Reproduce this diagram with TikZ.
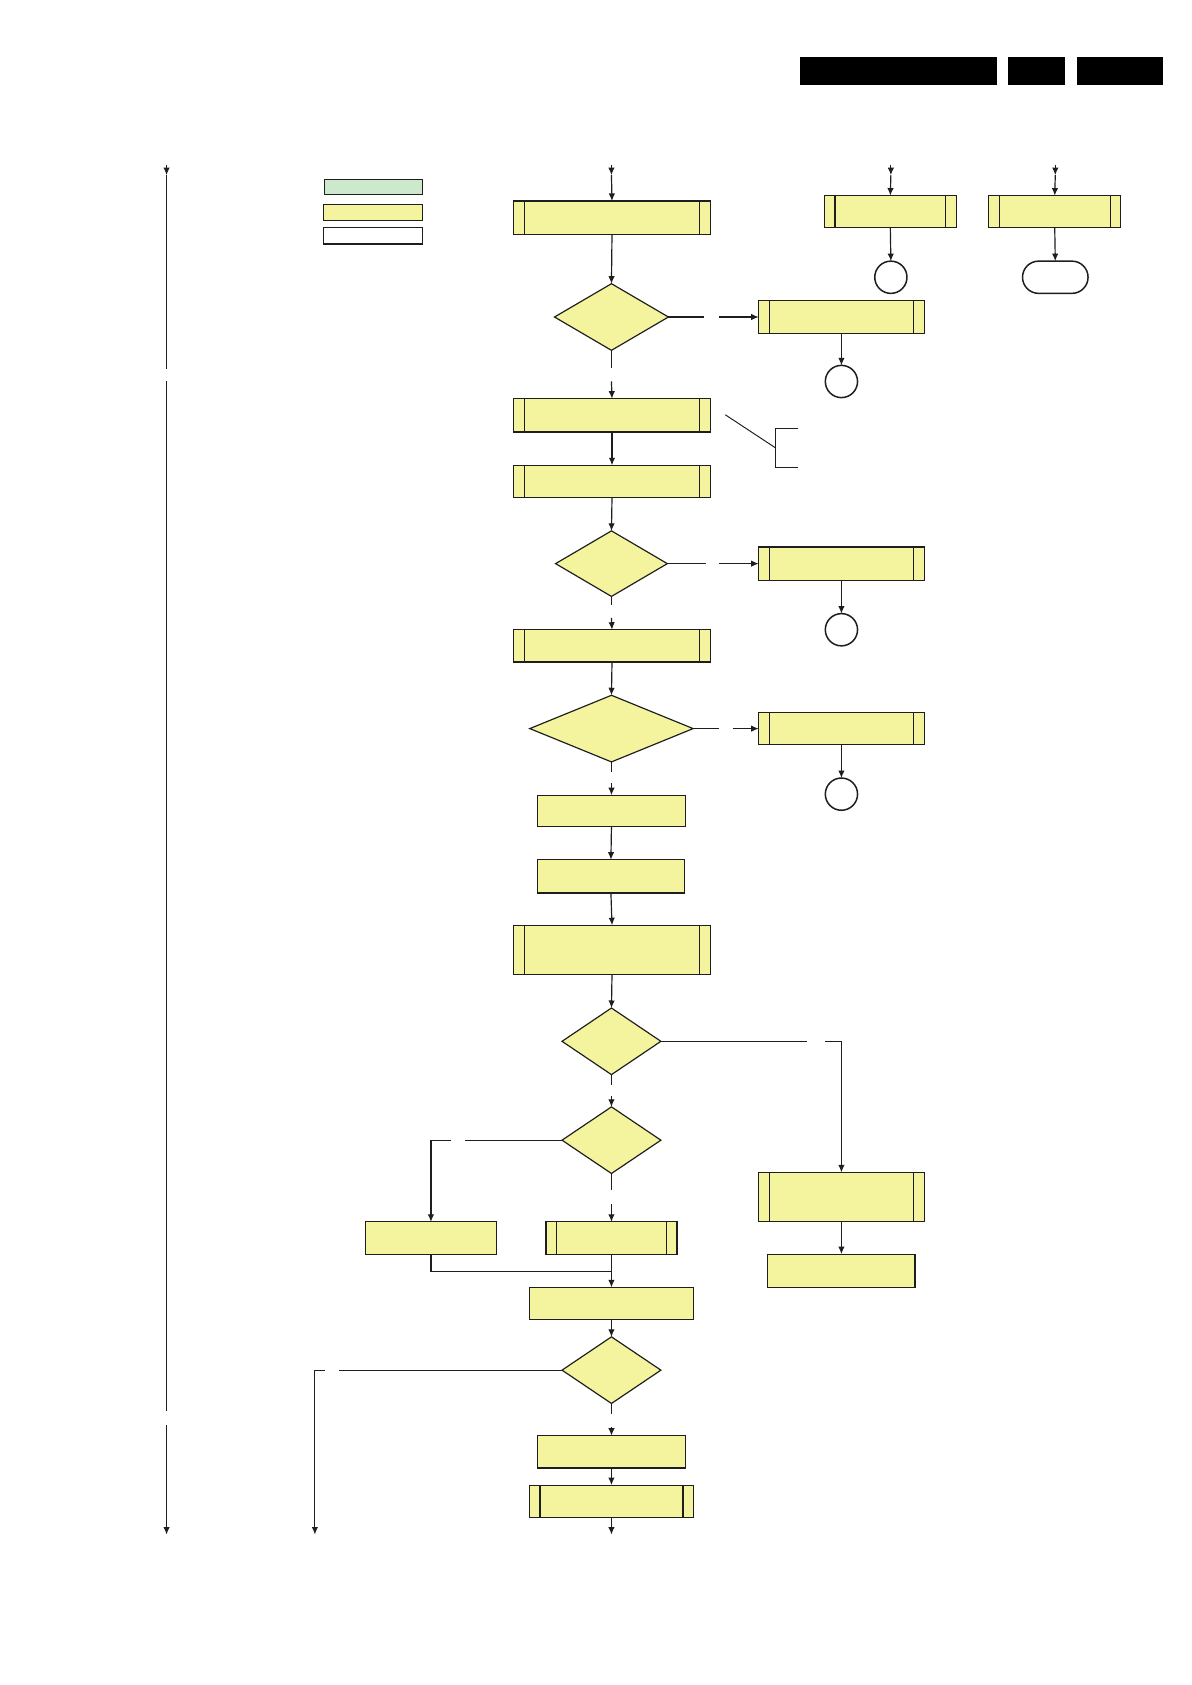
\documentclass[tikz,border=0pt]{standalone}
\usetikzlibrary{shapes.geometric,arrows.meta}
\definecolor{fillY}{RGB}{245,244,158}
\definecolor{fillG}{RGB}{204,233,206}
\definecolor{lineK}{RGB}{30,30,30}
\begin{document}
\begin{tikzpicture}[x=1pt,y=-1pt,
 every node/.style={inner sep=0pt,outer sep=0pt},
 ln/.style={line width=1.1pt,draw=lineK},
 arr/.style={ln,-{Latex[length=7pt,width=6pt]}},
 box/.style={ln,fill=fillY,rectangle,anchor=north west},
 subp/.style={box,path picture={\draw[line width=1.1pt,lineK]
   ([xshift=10pt]path picture bounding box.north west) -- ([xshift=10pt]path picture bounding box.south west)
   ([xshift=-10pt]path picture bounding box.north east) -- ([xshift=-10pt]path picture bounding box.south east);}},
 dec/.style={ln,fill=fillY,diamond},
 conn/.style={ln,line width=1.4pt,fill=white,circle,minimum size=30pt},
 term/.style={ln,line width=1.4pt,fill=white,rectangle,rounded corners=15pt,minimum width=61pt,minimum height=30pt},
 bar/.style={fill=black,draw=none}]
\useasboundingbox[fill=white] (0,0) rectangle (1109,1568);

% header bars
\fill[bar] (744,53) rectangle (928,79);
\fill[bar] (938,53) rectangle (991,79);
\fill[bar] (1002,53) rectangle (1082,79);

% legend
\node[box,fill=fillG,minimum width=91pt,minimum height=14pt] (lg1) at (302,167) {};
\node[box,minimum width=92pt,minimum height=15pt] (lg2) at (301,190) {};
\node[box,fill=white,minimum width=92pt,minimum height=15pt] (lg3) at (301,212) {};

% left timeline
\coordinate (L0) at (155,154); \coordinate (L1) at (155,163); \coordinate (L2) at (155,343);
\coordinate (L3) at (155,355); \coordinate (L4) at (155,1313);
\coordinate (L5) at (155,1326); \coordinate (L6) at (155,1428);
\draw[arr] (L0) -- (L1); \draw[ln] (L1) -- (L2);
\draw[ln] (L3) -- (L4);
\draw[arr] (L5) -- (L6);

% main column nodes
\node[subp,minimum width=183pt,minimum height=31pt] (B1) at (478,187) {};
\node[dec,minimum width=106pt,minimum height=62pt] (D1) at (569,295) {};
\node[subp,minimum width=154pt,minimum height=30pt] (R1) at (706,280) {};
\node[conn] (C1) at (783,355) {};
\node[subp,minimum width=123pt,minimum height=30pt] (TR1) at (767,182) {};
\node[conn] (C0) at (829,258) {};
\node[subp,minimum width=123pt,minimum height=30pt] (TR2) at (920,182) {};
\node[term] (T0) at (982,258) {};
\node[subp,minimum width=183pt,minimum height=31pt] (B2) at (478,371) {};
\node[subp,minimum width=183pt,minimum height=30pt] (B3) at (478,433) {};
\node[dec,minimum width=104pt,minimum height=61pt] (D2) at (569,524.5) {};
\node[subp,minimum width=154pt,minimum height=31pt] (R2) at (706,509) {};
\node[conn] (C2) at (783,586) {};
\node[subp,minimum width=183pt,minimum height=30pt] (B4) at (478,586) {};
\node[dec,minimum width=152pt,minimum height=62pt] (D3) at (569,678) {};
\node[subp,minimum width=154pt,minimum height=30pt] (R3) at (706,663) {};
\node[conn] (C3) at (783,739) {};
\node[box,minimum width=138pt,minimum height=29pt] (B5) at (500,740) {};
\node[box,minimum width=137pt,minimum height=31pt] (B6) at (500,800) {};
\node[subp,minimum width=183pt,minimum height=46pt] (B7) at (478,861) {};
\node[dec,minimum width=92pt,minimum height=62pt] (D4) at (569,969) {};
\node[subp,minimum width=154pt,minimum height=46pt] (R4) at (706,1091) {};
\node[box,minimum width=137pt,minimum height=31pt] (R5) at (714.5,1167) {};
\node[dec,minimum width=92pt,minimum height=62pt] (D5) at (569,1061) {};
\node[box,minimum width=122pt,minimum height=30pt] (BL) at (340,1137) {};
\node[subp,minimum width=122pt,minimum height=30pt] (BM) at (508,1137) {};
\node[box,minimum width=153pt,minimum height=30pt] (BN) at (492.5,1198) {};
\node[dec,minimum width=92pt,minimum height=62pt] (D6) at (569,1275) {};
\node[box,minimum width=138pt,minimum height=30pt] (BO) at (500,1336) {};
\node[subp,minimum width=153pt,minimum height=30pt] (BP) at (492.5,1382) {};

% helper coordinates
\coordinate (t1a) at (569,154); \coordinate (t1b) at (569,163);
\coordinate (t2a) at (829,154); \coordinate (t2b) at (829,163);
\coordinate (t3a) at (982,154); \coordinate (t3b) at (982,163);
\coordinate (g1a) at (655,295); \coordinate (g1b) at (669,295);
\coordinate (g2a) at (569,342); \coordinate (g2b) at (569,355);
\coordinate (g3a) at (657,524.5); \coordinate (g3b) at (669,524.5);
\coordinate (g4a) at (569,563); \coordinate (g4b) at (569,575);
\coordinate (g5a) at (669,678); \coordinate (g5b) at (682,678);
\coordinate (g6a) at (569,718); \coordinate (g6b) at (569,729);
\coordinate (g7a) at (751,969); \coordinate (g7b) at (768,969); \coordinate (g7c) at (783,969);
\coordinate (g8a) at (569,1010); \coordinate (g8b) at (569,1020);
\coordinate (g9a) at (433,1061); \coordinate (g9b) at (420,1061); \coordinate (g9c) at (401,1061);
\coordinate (g10a) at (569,1107); \coordinate (g10b) at (569,1120);
\coordinate (j1) at (401,1183); \coordinate (j2) at (569,1183);
\coordinate (g11a) at (315,1275); \coordinate (g11b) at (302,1275); \coordinate (g11c) at (293,1275);
\coordinate (e1) at (293,1428);
\coordinate (g12a) at (569,1316); \coordinate (g12b) at (569,1328);
\coordinate (e2) at (569,1428);
% annotation bracket
\coordinate (a1) at (675,386); \coordinate (a2) at (722,417);
\coordinate (a3) at (743,399); \coordinate (a4) at (722,399);
\coordinate (a5) at (722,435); \coordinate (a6) at (743,435);

% connectors
\draw[arr] (t1a) -- (t1b); \draw[arr] (t1b) -- (B1.north);
\draw[arr] (B1.south) -- (D1.north);
\draw[ln] (D1.east) -- (g1a); \draw[arr] (g1b) -- (R1.west);
\draw[arr] (R1.south) -- (C1.north);
\draw[ln] (D1.south) -- (g2a); \draw[arr] (g2b) -- (B2.north);
\draw[arr] (t2a) -- (t2b); \draw[arr] (t2b) -- (TR1.north);
\draw[arr] (TR1.south) -- (C0.north);
\draw[arr] (t3a) -- (t3b); \draw[arr] (t3b) -- (TR2.north);
\draw[arr] (TR2.south) -- (T0.north);
\draw[arr] (B2.south) -- (B3.north);
\draw[ln,line width=0.9pt] (a1) -- (a2); \draw[ln,line width=0.9pt] (a3) -- (a4) -- (a5) -- (a6);
\draw[arr] (B3.south) -- (D2.north);
\draw[ln] (D2.east) -- (g3a); \draw[arr] (g3b) -- (R2.west);
\draw[arr] (R2.south) -- (C2.north);
\draw[ln] (D2.south) -- (g4a); \draw[arr] (g4b) -- (B4.north);
\draw[arr] (B4.south) -- (D3.north);
\draw[ln] (D3.east) -- (g5a); \draw[arr] (g5b) -- (R3.west);
\draw[arr] (R3.south) -- (C3.north);
\draw[ln] (D3.south) -- (g6a); \draw[arr] (g6b) -- (B5.north);
\draw[arr] (B5.south) -- (B6.north);
\draw[arr] (B6.south) -- (B7.north);
\draw[arr] (B7.south) -- (D4.north);
\draw[ln] (D4.east) -- (g7a); \draw[arr] (g7b) -- (g7c) -- (R4.north);
\draw[arr] (R4.south) -- (R5.north);
\draw[ln] (D4.south) -- (g8a); \draw[arr] (g8b) -- (D5.north);
\draw[ln] (D5.west) -- (g9a); \draw[arr] (g9b) -- (g9c) -- (BL.north);
\draw[ln] (D5.south) -- (g10a); \draw[arr] (g10b) -- (BM.north);
\draw[ln] (BL.south) -- (j1) -- (j2);
\draw[arr] (BM.south) -- (BN.north);
\draw[arr] (BN.south) -- (D6.north);
\draw[ln] (D6.west) -- (g11a); \draw[arr] (g11b) -- (g11c) -- (e1);
\draw[ln] (D6.south) -- (g12a); \draw[arr] (g12b) -- (BO.north);
\draw[arr] (BO.south) -- (BP.north);
\draw[arr] (BP.south) -- (e2);
\end{tikzpicture}
\end{document}
